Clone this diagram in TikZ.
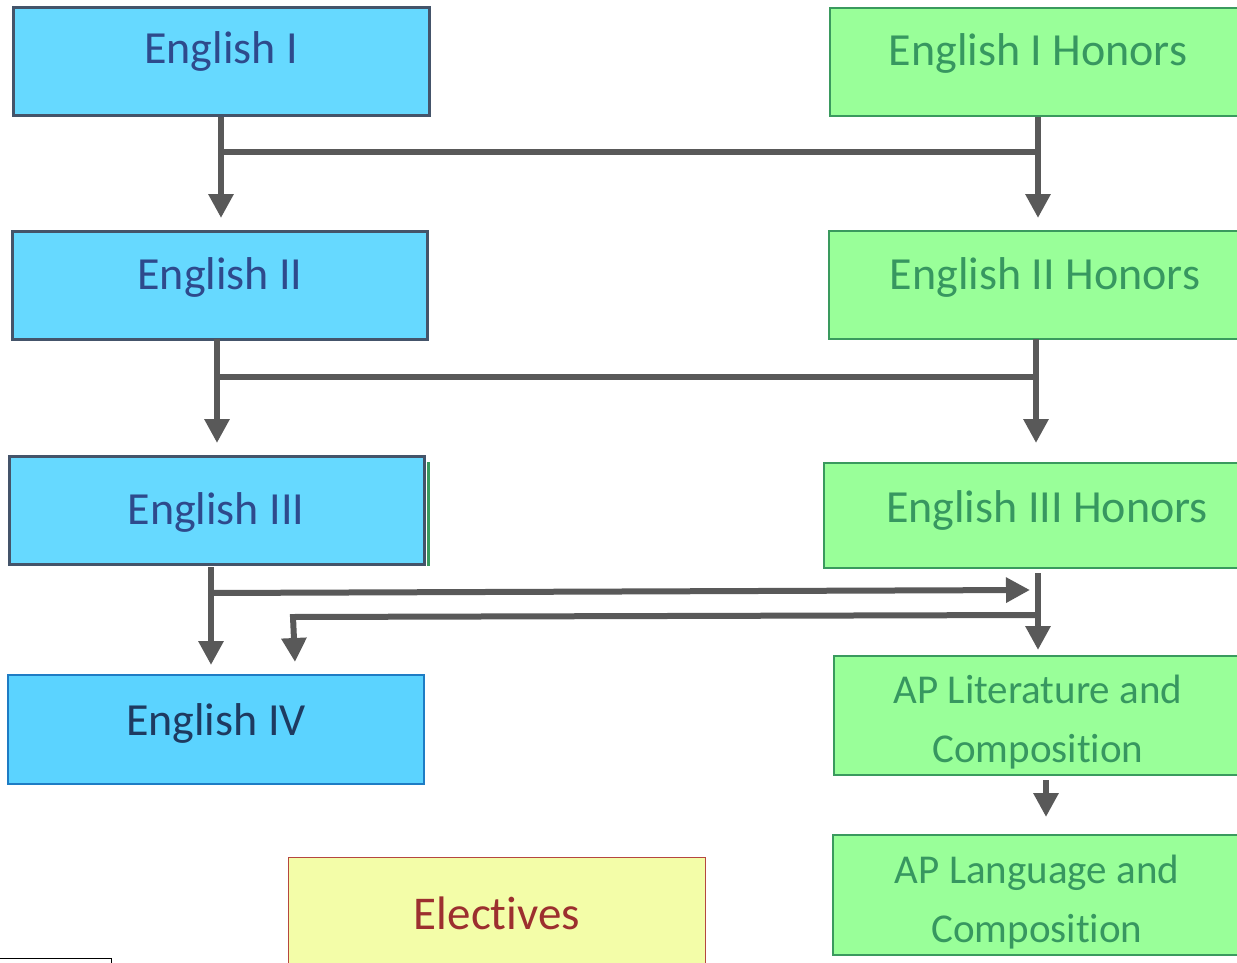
\documentclass[tikz,border=0pt]{standalone}
\usepackage{fontspec}
\setmainfont[Ligatures={NoCommon}]{Carlito}
\usetikzlibrary{arrows.meta}
\newcommand{\nolig}{\kern0pt{}}
\definecolor{bfill}{HTML}{66D9FF}
\definecolor{bfillb}{HTML}{5BD3FF}
\definecolor{bline}{HTML}{44546A}
\definecolor{blineb}{HTML}{1E7CC4}
\definecolor{btext}{HTML}{2E4A8C}
\definecolor{btextb}{HTML}{1E3A60}
\definecolor{gfill}{HTML}{99FF99}
\definecolor{gline}{HTML}{3A9A5E}
\definecolor{gtext}{HTML}{379760}
\definecolor{yfill}{HTML}{F3FDA8}
\definecolor{yline}{HTML}{B5473F}
\definecolor{ytext}{HTML}{9C2F2F}
\definecolor{conn}{HTML}{595959}
\tikzset{
  box/.style={rectangle, inner sep=0pt, anchor=center},
  bluebox/.style={box, fill=bfill, draw=bline, line width=3pt},
  bluebox4/.style={box, fill=bfillb, draw=blineb, line width=2pt},
  greenbox/.style={box, fill=gfill, draw=gline, line width=2.5pt},
  yellowbox/.style={box, fill=yfill, draw=yline, line width=1pt},
  btxt/.style={anchor=base, inner sep=0pt, text=btext, font=\fontsize{46}{52}\selectfont},
  btxt4/.style={anchor=base, inner sep=0pt, text=btextb, font=\fontsize{46}{52}\selectfont},
  gtxt/.style={anchor=base, inner sep=0pt, text=gtext, font=\fontsize{46}{52}\selectfont},
  gtxts/.style={anchor=base, inner sep=0pt, text=gtext, font=\fontsize{41}{47}\selectfont},
  ytxt/.style={anchor=base, inner sep=0pt, text=ytext, font=\fontsize{47}{53}\selectfont},
  line/.style={draw=conn, line width=6pt},
  arr/.style={line, -{Triangle[width=24pt,length=24pt]}},
}
\begin{document}
\begin{tikzpicture}[x=1pt,y=-1pt]
\useasboundingbox (0,0) rectangle (1237,963);
\clip (0,0) rectangle (1237,963);
\fill[white] (0,0) rectangle (1237,963);
% boxes
\node[bluebox, minimum width=416pt, minimum height=108pt] (e1) at (221,62) {};
\node[greenbox, minimum width=416pt, minimum height=108pt] (h1) at (1038,62) {};
\node[bluebox, minimum width=415pt, minimum height=108pt] (e2) at (219.5,285) {};
\node[greenbox, minimum width=416pt, minimum height=108pt] (h2) at (1037,285) {};
\node[bluebox, minimum width=415pt, minimum height=108pt] (e3) at (216.5,510) {};
\node[greenbox, minimum width=426pt, minimum height=105pt] (h3) at (1037,515.5) {};
\node[bluebox4, minimum width=416pt, minimum height=109pt] (e4) at (216,729.5) {};
\node[greenbox, minimum width=416pt, minimum height=119pt] (apl) at (1042,715.5) {};
\node[greenbox, minimum width=418pt, minimum height=120pt] (apg) at (1042,895) {};
\node[yellowbox, minimum width=417pt, minimum height=124pt] (el) at (496.5,919) {};
% texts
\node[btxt] (t1) at (221,64) {English I};
\node[gtxt] (t2) at (1038,66) {English I Honors};
\node[btxt] (t3) at (220,289) {English II};
\node[gtxt] (t4) at (1045,289) {English II Honors};
\node[btxt] (t5) at (216,524) {English III};
\node[gtxt] (t6) at (1047,522) {English III Honors};
\node[btxt4] (t7) at (216,735) {English IV};
\node[gtxts] (t8) at (1038,703) {AP Literature and};
\node[gtxts] (t9) at (1038,762) {Composit\nolig ion};
\node[gtxts] (t10) at (1037,883) {AP Language and};
\node[gtxts] (t11) at (1037,942) {Composit\nolig ion};
\node[ytxt] (t12) at (497,929) {Elect\nolig ives};
% stray marks
\draw[gline, line width=3pt] (428,462) -- (428,566);
\draw[black, line width=1.5pt] (-5,958.5) -- (111.5,958.5) -- (111.5,970);
% connectors row 1
\coordinate (a1) at (221,152);
\coordinate (b1) at (1038,152);
\draw[arr] (e1.south) -- (221,218);
\draw[arr] (h1.south) -- (1038,218);
\draw[line] (a1) -- (b1);
% row 2
\coordinate (a2) at (217,377);
\coordinate (b2) at (1036,377);
\draw[arr] (217,339) -- (217,443);
\draw[arr] (1036,339) -- (1036,443);
\draw[line] (a2) -- (b2);
% row 3
\coordinate (a3) at (211,567);
\coordinate (a3t) at (211,665);
\coordinate (a3m) at (211,593);
\coordinate (b3r) at (1030,590);
\coordinate (c3) at (1038,573);
\coordinate (c3t) at (1038,650);
\coordinate (c3m) at (1038,615);
\coordinate (d3) at (293,617);
\coordinate (d3t) at (295,662);
\draw[arr] (a3) -- (a3t);
\draw[arr] (a3m) -- (b3r);
\draw[arr] (c3) -- (c3t);
\draw[arr, line join=miter] (c3m) -- (d3) -- (d3t);
% AP arrow
\draw[arr] (1046,780) -- (1046,817);
\end{tikzpicture}
\end{document}
